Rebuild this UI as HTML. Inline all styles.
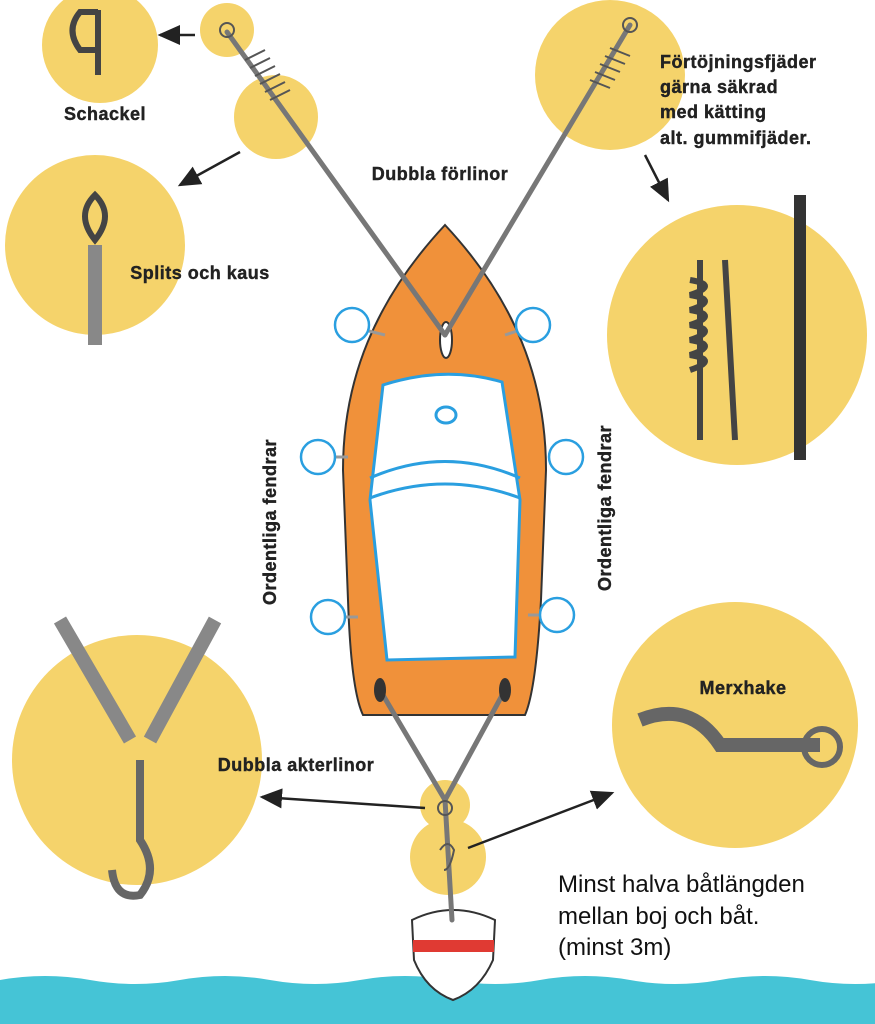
<!DOCTYPE html>
<html><head><meta charset="utf-8"><style>
html,body{margin:0;padding:0;background:#fff;}
svg{display:block;}
text{font-family:"Liberation Sans",sans-serif;}
.b{font-weight:bold;font-size:18px;fill:#222;letter-spacing:0.5px;stroke:#222;stroke-width:0.4px;}
</style></head><body>
<svg width="875" height="1024" viewBox="0 0 875 1024" xmlns="http://www.w3.org/2000/svg">
<defs><marker id="ar" markerWidth="10" markerHeight="10" refX="8" refY="5" orient="auto"><path d="M0,1 L9,5 L0,9 Z" fill="#222"/></marker></defs>
<g fill="#f5d36b">
<circle cx="100" cy="45" r="58"/>
<circle cx="227" cy="30" r="27"/>
<circle cx="276" cy="117" r="42"/>
<circle cx="95" cy="245" r="90"/>
<circle cx="610" cy="75" r="75"/>
<circle cx="737" cy="335" r="130"/>
<circle cx="137" cy="760" r="125"/>
<circle cx="735" cy="725" r="123"/>
<circle cx="445" cy="805" r="25"/>
<circle cx="448" cy="857" r="38"/>
</g>
<path d="M0,980 Q45,972 90,980 T180,980 T270,980 T360,980 T450,980 T540,980 T630,980 T720,980 T810,980 T900,980 L875,1024 L0,1024 Z" fill="#45c4d6"/>
<path d="M412,920 Q453,900 495,920 L493,960 Q480,990 453,1000 Q426,990 414,960 Z" fill="#fff" stroke="#333" stroke-width="2"/>
<rect x="413" y="940" width="81" height="12" fill="#e03a33"/>
<path d="M445,225 C515,300 546,380 546,470 L541,600 Q536,690 525,715 L363,715 Q351,690 348,600 L343,470 C343,380 375,300 445,225 Z" fill="#f0913a" stroke="#333" stroke-width="2"/>
<path d="M383,385 Q445,365 502,382 L520,500 L515,657 L387,660 L370,500 Z" fill="#fff" stroke="#2a9fe0" stroke-width="3"/>
<path d="M370,478 Q445,445 520,478" fill="none" stroke="#2a9fe0" stroke-width="3"/>
<path d="M370,498 Q445,470 520,498" fill="none" stroke="#2a9fe0" stroke-width="3"/>
<ellipse cx="446" cy="415" rx="10" ry="8" fill="none" stroke="#2a9fe0" stroke-width="3"/>
<ellipse cx="446" cy="340" rx="6" ry="18" fill="#fff" stroke="#333" stroke-width="2"/>
<g stroke="#999" stroke-width="3"><line x1="365" y1="330" x2="385" y2="335"/><line x1="520" y1="330" x2="505" y2="335"/><line x1="332" y1="457" x2="348" y2="457"/><line x1="550" y1="457" x2="565" y2="457"/><line x1="342" y1="617" x2="358" y2="617"/><line x1="542" y1="615" x2="528" y2="615"/></g>
<g fill="#fff" stroke="#2a9fe0" stroke-width="2.5">
<circle cx="352" cy="325" r="17"/><circle cx="533" cy="325" r="17"/><circle cx="318" cy="457" r="17"/><circle cx="566" cy="457" r="17"/><circle cx="328" cy="617" r="17"/><circle cx="557" cy="615" r="17"/></g>
<g stroke="#777" stroke-width="5" fill="none" stroke-linecap="round">
<line x1="227" y1="32" x2="445" y2="335"/>
<line x1="630" y1="25" x2="445" y2="335"/>
<line x1="380" y1="690" x2="445" y2="800"/>
<line x1="505" y1="690" x2="445" y2="800"/>
<line x1="445" y1="800" x2="452" y2="920"/>
</g>
<g fill="#333"><ellipse cx="380" cy="690" rx="6" ry="12"/><ellipse cx="505" cy="690" rx="6" ry="12"/></g>
<g stroke="#555" stroke-width="2" fill="none">
<circle cx="227" cy="30" r="7"/><path d="M245,60 l20,-10 M250,68 l20,-10 M255,76 l20,-10 M260,84 l20,-10 M265,92 l20,-10 M270,100 l20,-10"/>
<circle cx="630" cy="25" r="7"/><path d="M590,80 l20,8 M595,72 l20,8 M600,64 l20,8 M605,56 l20,8 M610,48 l20,8"/>
<circle cx="445" cy="808" r="7"/><path d="M440,850 q8,-12 14,0 q-4,20 -10,20"/>
</g>
<g fill="none" stroke="#444" stroke-width="6">
<path d="M98,12 L80,12 Q65,30 80,50 L98,50"/><line x1="98" y1="10" x2="98" y2="75"/>
<path d="M95,195 Q75,215 95,240 Q115,215 95,195 Z"/>
<line x1="95" y1="245" x2="95" y2="345" stroke-width="14" stroke="#888"/>
<path d="M700,260 L700,440 M725,260 L735,440"/><path d="M690,280 q30,5 0,15 q30,5 0,15 q30,5 0,15 q30,5 0,15 q30,5 0,15 q30,5 0,15"/>
<line x1="800" y1="195" x2="800" y2="460" stroke="#333" stroke-width="12"/>
<path d="M640,720 Q690,700 720,745 L820,745" stroke-width="14" stroke="#666"/><circle cx="822" cy="747" r="18" stroke="#666"/>
<path d="M60,620 L130,740 M215,620 L150,740" stroke="#888" stroke-width="14"/>
<path d="M140,760 L140,840 Q160,870 140,895 Q115,900 112,870" stroke="#666" stroke-width="8"/>
</g>
<g stroke="#222" stroke-width="2.5" marker-end="url(#ar)">
<line x1="195" y1="35" x2="160" y2="35"/>
<line x1="240" y1="152" x2="180" y2="185"/>
<line x1="645" y1="155" x2="668" y2="200"/>
<line x1="425" y1="808" x2="262" y2="797"/>
<line x1="468" y1="848" x2="612" y2="793"/>
</g>
<text class="b" x="105" y="120" text-anchor="middle">Schackel</text>
<text class="b" x="200" y="279" text-anchor="middle">Splits och kaus</text>
<text class="b" x="440" y="180" text-anchor="middle">Dubbla förlinor</text>
<text class="b" x="660" y="68">Förtöjningsfjäder</text>
<text class="b" x="660" y="93">gärna säkrad</text>
<text class="b" x="660" y="118">med kätting</text>
<text class="b" x="660" y="144">alt. gummifjäder.</text>
<text class="b" transform="translate(276,522) rotate(-90)" text-anchor="middle">Ordentliga fendrar</text>
<text class="b" transform="translate(611,508) rotate(-90)" text-anchor="middle">Ordentliga fendrar</text>
<text class="b" x="743" y="694" text-anchor="middle">Merxhake</text>
<text class="b" x="296" y="771" text-anchor="middle">Dubbla akterlinor</text>
<g font-size="24" fill="#111"><text x="558" y="892">Minst halva båtlängden</text><text x="558" y="924">mellan boj och båt.</text><text x="558" y="955">(minst 3m)</text></g>
</svg>
</body></html>
